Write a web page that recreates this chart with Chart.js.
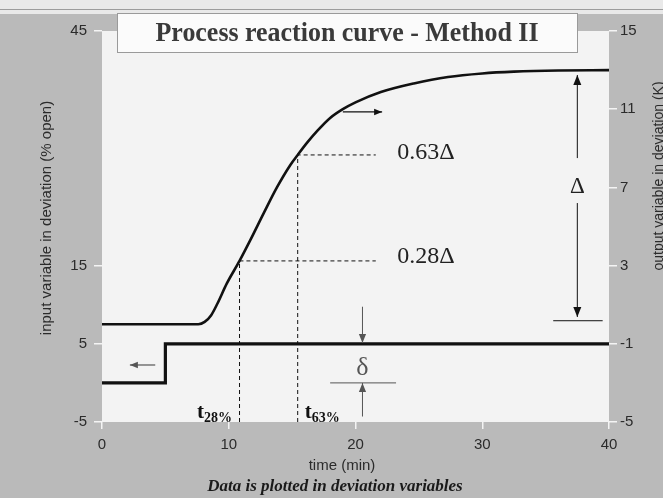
<!DOCTYPE html>
<html>
<head>
<meta charset="utf-8">
<script src="https://cdn.jsdelivr.net/npm/chart.js@4.4.1/dist/chart.umd.min.js"></script>
<style>
  html, body { margin: 0; padding: 0; background: #bababa; }
  #wrap { width: 663px; height: 498px; }
</style>
</head>
<body>
<div id="wrap"><canvas id="myChart" width="663" height="498"></canvas></div>
<script>
// axis ticks
var timeTicks = [0, 10, 20, 30, 40];
var inputTicks = [-5, 5, 15, 45];
var outputTicks = [-5, -1, 3, 7, 11, 15];

// input step (left axis, % open)
var inputTime = [0, 5, 5, 40];
var inputValue = [0, 0, 5, 5];

// output response (right axis, K)
var outputTime = [0, 7.6, 8.1, 8.6, 9.1, 9.85, 10.85, 11.7, 12.75, 13.8, 14.86, 15.44, 16.2, 17, 18, 19, 20, 22, 24.6, 27.3, 30, 32.5, 36, 40];
var outputValue = [0, 0, 0.12, 0.45, 1.05, 2.09, 3.24, 4.3, 5.67, 7.0, 8.15, 8.66, 9.3, 9.9, 10.55, 11.0, 11.35, 11.88, 12.32, 12.65, 12.83, 12.92, 12.98, 13.0];

// 28% / 63% construction lines
var guideTime = [10.85, 15.44];
var guideLevel = [3.24, 8.66];
var guideEnd = 21.6;
var guideText = ['0.28\u0394', '0.63\u0394'];
var guideTextTime = 23.3;
var guideTextLevel = [3.44, 8.76];
var guideSub = ['28%', '63%'];
var guideSubTime = [7.5, 16.0];

// delta (output span) and small delta (input span) markers
var bigDeltaTime = 37.5;
var bigDeltaLevels = [12.75, 8.5, 6.2, 0.37];
var bigDeltaLabel = 7.0;
var bigDeltaBase = [35.6, 39.5, 0.18];
var smallDeltaTime = 20.55;
var smallDeltaLevels = [9.74, 5.1, -4.3, 0];
var smallDeltaLabel = 1.9;
var smallDeltaBase = [18, 23.2, 0];

// direction arrows on the curves
var outArrow = [19.0, 22.1, 10.86];
var inArrow = [4.2, 2.2, 2.29];

function pts(xs, ys) {
  return xs.map(function (x, i) { return {x: x, y: ys[i]}; });
}

function guidePts(i) {
  return [{x: guideTime[i], y: -5}, {x: guideTime[i], y: guideLevel[i]}, {x: guideEnd, y: guideLevel[i]}];
}

function arrow(ctx, x1, y1, x2, y2, head) {
  ctx.beginPath();
  ctx.moveTo(x1, y1);
  ctx.lineTo(x2, y2);
  ctx.stroke();
  var a = Math.atan2(y2 - y1, x2 - x1);
  ctx.beginPath();
  ctx.moveTo(x2, y2);
  ctx.lineTo(x2 - head * Math.cos(a) + head * 0.4 * Math.sin(a), y2 - head * Math.sin(a) - head * 0.4 * Math.cos(a));
  ctx.lineTo(x2 - head * Math.cos(a) - head * 0.4 * Math.sin(a), y2 - head * Math.sin(a) + head * 0.4 * Math.cos(a));
  ctx.closePath();
  ctx.fill();
}

// draw text squeezed to a given width
function fitText(ctx, txt, cx, cy, w) {
  var nat = ctx.measureText(txt).width;
  ctx.save();
  ctx.translate(cx, cy);
  ctx.scale(w / nat, 1);
  ctx.fillText(txt, 0, 0);
  ctx.restore();
}

var frame = {
  id: 'frame',
  beforeDraw: function (chart) {
    var ctx = chart.ctx, a = chart.chartArea;
    ctx.save();
    ctx.fillStyle = '#bababa';
    ctx.fillRect(0, 0, chart.width, chart.height);
    ctx.fillStyle = '#e9e9e9';
    ctx.fillRect(0, 0, chart.width, 14);
    ctx.fillStyle = '#9c9c9c';
    ctx.fillRect(0, 9, chart.width, 1);
    ctx.fillStyle = '#f3f3f3';
    ctx.fillRect(a.left, a.top, a.right - a.left, a.bottom - a.top);
    ctx.restore();
  },
  afterDatasetsDraw: function (chart) {
    var ctx = chart.ctx;
    var x = chart.scales.x, yl = chart.scales.y, yr = chart.scales.y2;
    ctx.save();

    // Delta arrow
    ctx.strokeStyle = '#111'; ctx.fillStyle = '#111'; ctx.lineWidth = 1;
    var dx = x.getPixelForValue(bigDeltaTime);
    arrow(ctx, dx, yr.getPixelForValue(bigDeltaLevels[1]), dx, yr.getPixelForValue(bigDeltaLevels[0]), 10);
    arrow(ctx, dx, yr.getPixelForValue(bigDeltaLevels[2]), dx, yr.getPixelForValue(bigDeltaLevels[3]), 10);
    ctx.beginPath();
    ctx.moveTo(x.getPixelForValue(bigDeltaBase[0]), yr.getPixelForValue(bigDeltaBase[2]));
    ctx.lineTo(x.getPixelForValue(bigDeltaBase[1]), yr.getPixelForValue(bigDeltaBase[2]));
    ctx.stroke();

    // small delta arrows
    ctx.strokeStyle = '#555'; ctx.fillStyle = '#555';
    var sx = x.getPixelForValue(smallDeltaTime);
    arrow(ctx, sx, yl.getPixelForValue(smallDeltaLevels[0]), sx, yl.getPixelForValue(smallDeltaLevels[1]), 9);
    arrow(ctx, sx, yl.getPixelForValue(smallDeltaLevels[2]), sx, yl.getPixelForValue(smallDeltaLevels[3]), 9);
    ctx.beginPath();
    ctx.moveTo(x.getPixelForValue(smallDeltaBase[0]), yl.getPixelForValue(smallDeltaBase[2]));
    ctx.lineTo(x.getPixelForValue(smallDeltaBase[1]), yl.getPixelForValue(smallDeltaBase[2]));
    ctx.stroke();

    // curve direction arrows
    ctx.strokeStyle = '#111'; ctx.fillStyle = '#111'; ctx.lineWidth = 1.2;
    arrow(ctx, x.getPixelForValue(outArrow[0]), yr.getPixelForValue(outArrow[2]), x.getPixelForValue(outArrow[1]), yr.getPixelForValue(outArrow[2]), 8);
    ctx.strokeStyle = '#555'; ctx.fillStyle = '#555';
    arrow(ctx, x.getPixelForValue(inArrow[0]), yl.getPixelForValue(inArrow[2]), x.getPixelForValue(inArrow[1]), yl.getPixelForValue(inArrow[2]), 8);

    // annotation text
    ctx.fillStyle = '#222';
    ctx.font = '24px "Liberation Serif"';
    ctx.textBaseline = 'middle';
    ctx.textAlign = 'left';
    guideText.forEach(function (t, i) {
      ctx.fillText(t, x.getPixelForValue(guideTextTime), yr.getPixelForValue(guideTextLevel[i]));
    });
    ctx.textAlign = 'center';
    ctx.font = '23px "Liberation Serif"';
    ctx.fillText('\u0394', dx, yr.getPixelForValue(bigDeltaLabel));
    ctx.fillStyle = '#555';
    ctx.font = '26px "Liberation Serif"';
    ctx.fillText('\u03b4', sx, yl.getPixelForValue(smallDeltaLabel));

    // t28% / t63%
    ctx.fillStyle = '#111';
    ctx.textAlign = 'left';
    ctx.textBaseline = 'alphabetic';
    guideSub.forEach(function (s, i) {
      var px = x.getPixelForValue(guideSubTime[i]);
      var py = yl.getPixelForValue(-4.5);
      ctx.font = 'bold 21px "Liberation Serif"';
      ctx.fillText('t', px, py);
      var w = ctx.measureText('t').width;
      ctx.font = 'bold 14px "Liberation Serif"';
      ctx.fillText(s, px + w, py + 4);
    });
    ctx.restore();
  },
  afterDraw: function (chart) {
    var ctx = chart.ctx;
    ctx.save();
    // title box
    ctx.fillStyle = '#fbfbfb';
    ctx.fillRect(117.5, 13.5, 460, 39);
    ctx.strokeStyle = '#9a9a9a';
    ctx.lineWidth = 1;
    ctx.strokeRect(117.5, 13.5, 460, 39);
    ctx.fillStyle = '#3a3a3a';
    ctx.font = 'bold 28px "Liberation Serif"';
    ctx.textAlign = 'center';
    ctx.textBaseline = 'middle';
    fitText(ctx, 'Process reaction curve - Method II', 347, 34, 383);

    // axis titles
    ctx.fillStyle = '#2b2b2b';
    ctx.font = '15px "Liberation Sans"';
    ctx.fillText('time (min)', 342, 466);
    ctx.save();
    ctx.translate(47, 218);
    ctx.rotate(-Math.PI / 2);
    ctx.fillText('input variable in deviation (% open)', 0, 0);
    ctx.restore();
    ctx.save();
    ctx.font = '14px "Liberation Sans"';
    ctx.translate(659, 176);
    ctx.rotate(-Math.PI / 2);
    ctx.fillText('output variable in deviation (K)', 0, 0);
    ctx.restore();

    ctx.fillStyle = '#1a1a1a';
    ctx.font = 'italic bold 17px "Liberation Serif"';
    ctx.fillText('Data is plotted in deviation variables', 335, 487);
    ctx.restore();
  }
};

function tickSet(list) {
  return function (s) { s.ticks = list.map(function (v) { return {value: v}; }); };
}

var gridOpts = {drawOnChartArea: false, drawTicks: true, tickLength: 8, color: '#f4f4f4', tickColor: '#f4f4f4', lineWidth: 1.5};
var tickFont = {family: 'Liberation Sans', size: 15};

var myChart = document.getElementById('myChart').getContext('2d');
var chart = new Chart(myChart, {
  type: 'scatter',
  data: {
    datasets: [
      {label: 'input', data: pts(inputTime, inputValue), yAxisID: 'y', showLine: true, borderColor: '#111', borderWidth: 3.2, pointRadius: 0, tension: 0},
      {label: 'output', data: pts(outputTime, outputValue), yAxisID: 'y2', showLine: true, borderColor: '#111', borderWidth: 2.6, pointRadius: 0, cubicInterpolationMode: 'monotone'},
      {label: 'guide28', data: guidePts(0), yAxisID: 'y2', showLine: true, borderColor: '#111', borderWidth: 1, borderDash: [4, 3], pointRadius: 0},
      {label: 'guide63', data: guidePts(1), yAxisID: 'y2', showLine: true, borderColor: '#111', borderWidth: 1, borderDash: [4, 3], pointRadius: 0}
    ]
  },
  options: {
    responsive: false,
    animation: false,
    layout: {padding: {top: 31, left: 0, right: 0, bottom: 0}},
    plugins: {legend: {display: false}, tooltip: {enabled: false}},
    scales: {
      x: {
        type: 'linear', min: 0, max: 40,
        afterBuildTicks: tickSet(timeTicks),
        afterFit: function (s) { s.height = 76; },
        grid: Object.assign({}, gridOpts, {tickLength: 7}),
        border: {display: false},
        ticks: {font: tickFont, color: '#2b2b2b', padding: 7, maxRotation: 0}
      },
      y: {
        position: 'left', min: -5, max: 45,
        afterBuildTicks: tickSet(inputTicks),
        afterFit: function (s) { s.width = 102; },
        grid: gridOpts,
        border: {display: false},
        ticks: {font: tickFont, color: '#2b2b2b', padding: 7}
      },
      y2: {
        position: 'right', min: -5, max: 15,
        afterBuildTicks: tickSet(outputTicks),
        afterFit: function (s) { s.width = 54; },
        grid: gridOpts,
        border: {display: false},
        ticks: {font: tickFont, color: '#2b2b2b', padding: 3}
      }
    }
  },
  plugins: [frame]
});
</script>
</body>
</html>
